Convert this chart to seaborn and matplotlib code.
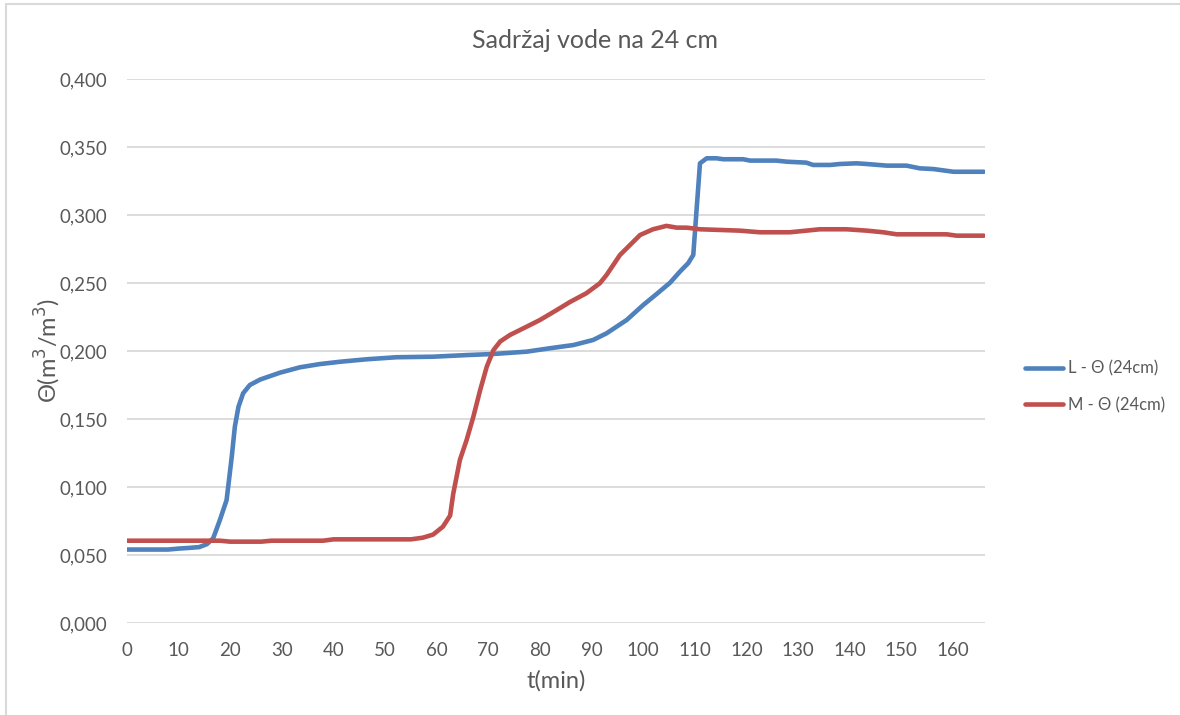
import pandas as pd
import matplotlib.pyplot as plt
import seaborn as sns
from matplotlib.lines import Line2D
from matplotlib.ticker import FuncFormatter

# Data (time in min, water content in m3/m3)
t_L = [0, 4, 8, 10, 12, 14, 15.5, 16.7, 18, 19.3, 20.3, 20.9, 21.6, 22.5, 23.8,
       25.8, 29.6, 33.5, 37.4, 41.3, 46.4, 52.2, 59.3, 65.8, 71, 77.4, 81.9,
       86.5, 90.3, 92.9, 96.8, 100, 102.6, 105.2, 107.1, 108.7, 109.7, 111,
       112.3, 114.2, 115.5, 119.4, 120.7, 125.8, 127.8, 131.6, 132.9, 136.2,
       138.1, 141.3, 143.3, 147.2, 151, 153.6, 156.2, 160.1, 166]
theta_L = [0.054, 0.054, 0.054, 0.0547, 0.0552, 0.0558, 0.058, 0.0623, 0.0757,
           0.0904, 0.1223, 0.1444, 0.159, 0.1689, 0.175, 0.179, 0.184, 0.188,
           0.1904, 0.1921, 0.1939, 0.1954, 0.1958, 0.197, 0.1978, 0.1995, 0.202,
           0.2044, 0.2081, 0.213, 0.2228, 0.2338, 0.2419, 0.2502, 0.2583, 0.2645,
           0.2706, 0.338, 0.3417, 0.3417, 0.341, 0.341, 0.340, 0.340, 0.3392,
           0.3385, 0.3368, 0.3368, 0.3375, 0.338, 0.3375, 0.3363, 0.3363, 0.3343,
           0.3338, 0.3318, 0.3318]

t_M = [0, 18, 20, 22, 26, 28, 38, 40, 55, 57.3, 59.3, 61.2, 62.6, 63.2, 64.5,
       65.8, 67.1, 68.4, 69.7, 71, 72.3, 74.2, 76.8, 80, 83.2, 85.8, 89, 91.6,
       92.9, 95.5, 99.4, 101.9, 104.5, 106.5, 108.4, 111, 114.9, 118.7, 122.6,
       128.4, 131.6, 134.2, 139.4, 143.3, 146.5, 149.1, 153.6, 158.8, 160.7, 166]
theta_M = [0.0605, 0.0605, 0.0598, 0.0598, 0.0598, 0.0605, 0.0605, 0.0615,
           0.0615, 0.0627, 0.065, 0.0708, 0.079, 0.095, 0.12, 0.1346, 0.1517,
           0.171, 0.1885, 0.2007, 0.207, 0.2118, 0.2167, 0.2228, 0.230, 0.236,
           0.2425, 0.2498, 0.2559, 0.2706, 0.2853, 0.2895, 0.292, 0.2907, 0.2907,
           0.2895, 0.289, 0.2885, 0.2873, 0.2873, 0.2885, 0.2895, 0.2895, 0.2885,
           0.2873, 0.2858, 0.2858, 0.2858, 0.2848, 0.2848]

labels = ['L - Θ (24cm)', 'M - Θ (24cm)']
colors = ['#4F81BD', '#C0504D']
x_ticks = list(range(0, 170, 10))
y_ticks = [0.0, 0.05, 0.1, 0.15, 0.2, 0.25, 0.3, 0.35, 0.4]

df = pd.concat([
    pd.DataFrame({'t': t_L, 'theta': theta_L, 'serija': labels[0]}),
    pd.DataFrame({'t': t_M, 'theta': theta_M, 'serija': labels[1]}),
])

sns.set_style('white')
plt.rcParams['font.family'] = ['Lato', 'DejaVu Sans']
text_col = '#595959'

fig = plt.figure(figsize=(11.8, 7.15), dpi=100)
ax = fig.add_axes([0.1076, 0.1287, 0.7271, 0.7608])

sns.lineplot(data=df, x='t', y='theta', hue='serija', palette=colors,
             linewidth=3.3, ax=ax, sort=False, legend=False, zorder=3)

ax.set_xlim(0, 166.2)
ax.set_ylim(0, 0.4)
ax.set_xticks(x_ticks)
ax.set_yticks(y_ticks)
ax.yaxis.set_major_formatter(FuncFormatter(lambda v, p: f'{v:.3f}'.replace('.', ',')))
ax.grid(axis='y', color='#D9D9D9', linewidth=1.3)
ax.grid(axis='x', visible=False)
for s in ax.spines.values():
    s.set_visible(False)
ax.tick_params(axis='both', labelsize=13.5, labelcolor=text_col, length=0)
ax.tick_params(axis='y', pad=14)
ax.tick_params(axis='x', pad=14)

ax.set_xlabel('t(min)', fontsize=17, color=text_col)
ax.set_ylabel('Θ(m$^3$/m$^3$)', fontsize=17, color=text_col)
ax.xaxis.set_label_coords(0.5, -0.086)
ax.yaxis.set_label_coords(-0.074, 0.5)
fig.text(0.504, 0.944, 'Sadržaj vode na 24 cm', ha='center', va='center',
         fontsize=18, color=text_col)

handles = [Line2D([], [], color=c, linewidth=3.3) for c in colors]
fig.legend(handles, labels, loc='center left', bbox_to_anchor=(0.856, 0.459),
           frameon=False, fontsize=12, labelcolor=text_col,
           handlelength=2.3, handletextpad=0.25, labelspacing=1.2)

# chart area border (left and top edges visible in the reference)
fig.add_artist(Line2D([0.0055, 0.0055], [0, 0.994], color='#D9D9D9', linewidth=1.5))
fig.add_artist(Line2D([0.0055, 1], [0.994, 0.994], color='#D9D9D9', linewidth=1.5))

fig.savefig('out.png', dpi=100)
